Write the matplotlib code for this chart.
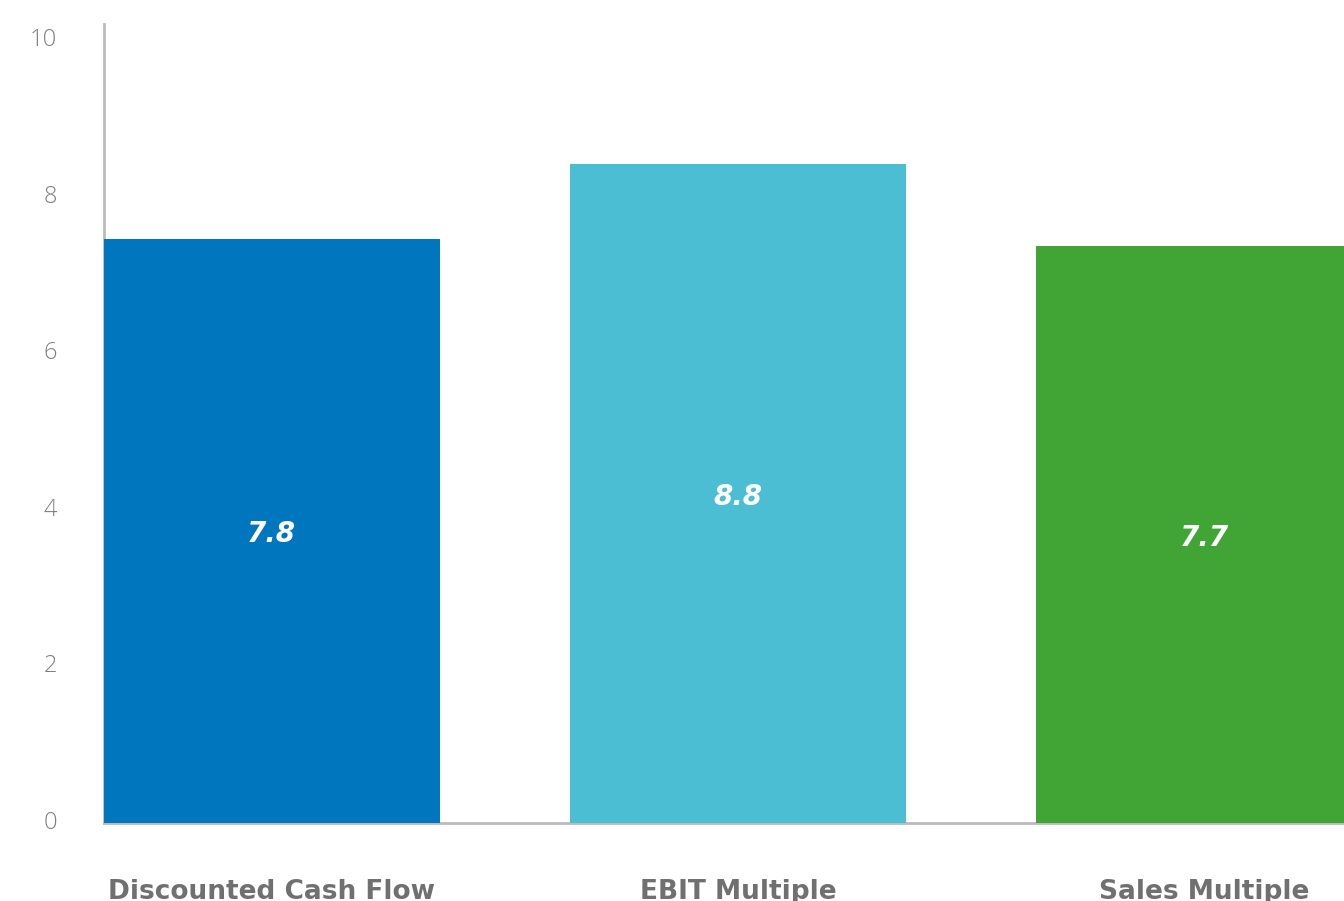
import matplotlib
matplotlib.use('Agg')
import matplotlib.pyplot as plt

# data
categories = ['Discounted Cash Flow', 'EBIT Multiple', 'Sales Multiple']
values = [7.8, 8.8, 7.7]
value_labels = ['7.8', '8.8', '7.7']
bar_colors = ['#0076be', '#4bbed3', '#40a535']
yticks = [0, 2, 4, 6, 8, 10]

plt.rcParams['font.family'] = ['Open Sans', 'DejaVu Sans']

fig = plt.figure(figsize=(13.44, 9.01), dpi=100)
pos = [104/1344, 78/901, 1 - 104/1344, 799/901]

# bar axes
ax = fig.add_axes(pos)
x = list(range(len(categories)))
ax.bar(x, values, width=0.72, color=bar_colors, zorder=3)
ax.set_xlim(-0.36, 2.30)
ax.set_ylim(0, 10.67)

for xi, v, lab in zip(x, values, value_labels):
    ax.text(xi, v / 2, lab, ha='center', va='center_baseline', color='white',
            fontsize=20, fontweight='bold', fontstyle='italic',
            family='DejaVu Sans', zorder=4)

ax.set_xticks(x)
ax.set_xticklabels(categories, fontsize=19, fontweight='bold', color='#707070',
                   family='DejaVu Sans')
ax.tick_params(axis='x', length=0, pad=40)
ax.set_yticks([])
for s in ['top', 'right']:
    ax.spines[s].set_visible(False)
ax.spines['left'].set_color('#bbbbbb')
ax.spines['bottom'].set_color('#bbbbbb')
ax.spines['left'].set_linewidth(2)
ax.spines['bottom'].set_linewidth(2)

# tick label axes
ax2 = fig.add_axes(pos, frameon=False)
ax2.set_ylim(-0.038, 10.17)
ax2.set_yticks(yticks)
ax2.set_yticklabels([str(t) for t in yticks], fontsize=17, fontweight='light', color='#808080')
ax2.tick_params(axis='y', length=0, pad=34)
ax2.set_xticks([])

fig.savefig('out.png', dpi=100)
plt.close()
